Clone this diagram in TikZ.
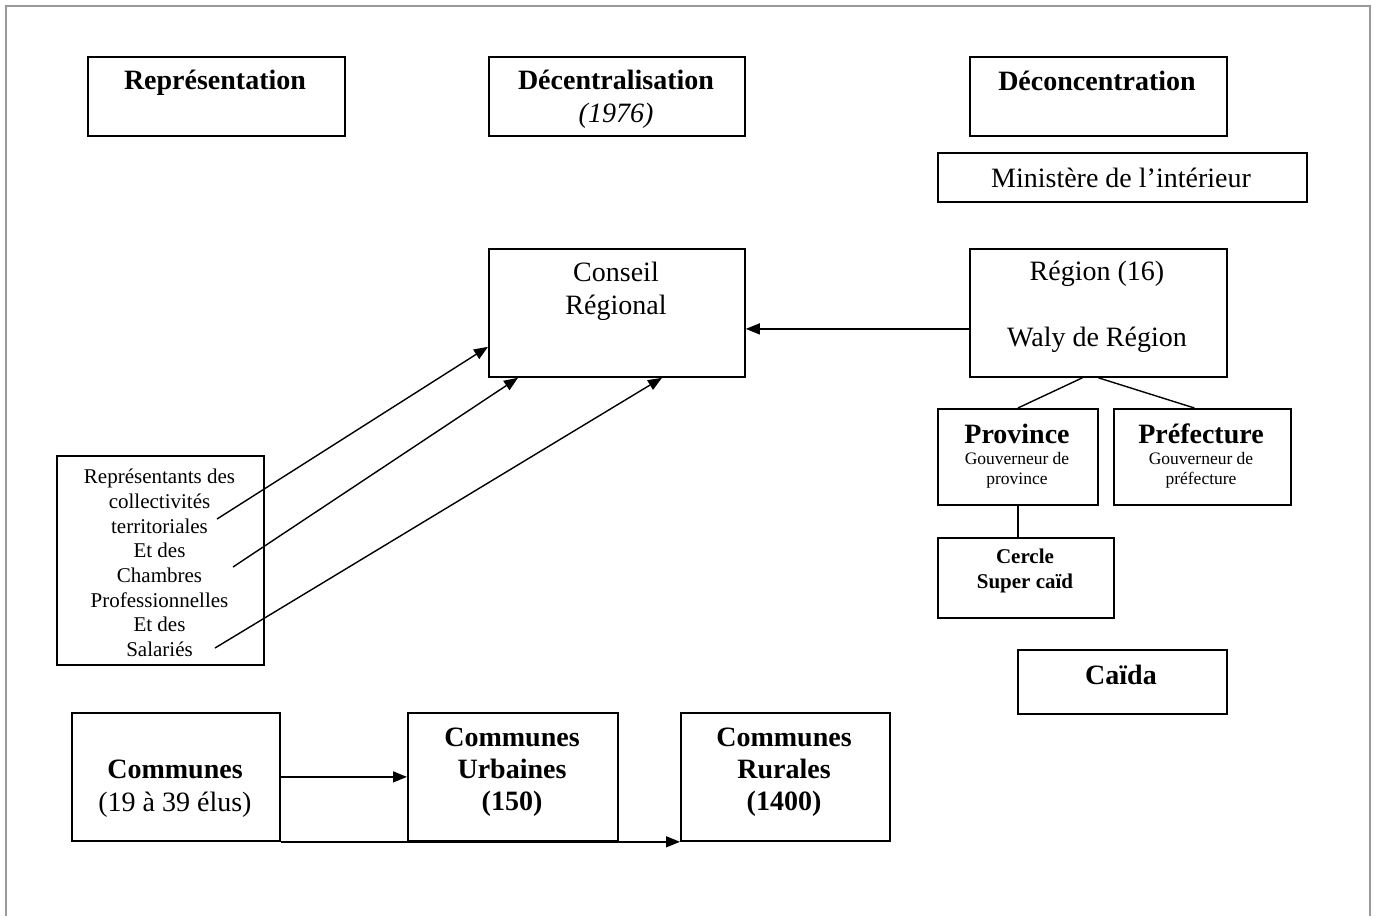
\documentclass[tikz,border=0pt]{standalone}
\usepackage{fontspec}
\setmainfont{Liberation Serif}
\usetikzlibrary{arrows.meta,calc}
\begin{document}
\begin{tikzpicture}[x=1pt,y=-1pt,
  box/.style={draw, line width=1.8pt, inner sep=0pt, anchor=north west},
  txt/.style={align=center, inner sep=0pt},
  bigf/.style={font=\fontsize{28}{33}\selectfont},
  bigb/.style={font=\fontsize{28}{32}\selectfont\bfseries},
  midf/.style={font=\fontsize{21}{24.7}\selectfont},
  conn/.style={line width=1.4pt},
  arr/.style={line width=1.4pt, -{Triangle[length=14pt,width=11pt]}},
  frame/.style={draw=black!40, line width=2.5pt}]
\useasboundingbox (0,0) rectangle (1376,916);
\fill[white] (0,0) rectangle (1376,916);
\draw[frame] (6,916) -- (6,6) -- (1370,6) -- (1370,916);

% boxes
\node[box, minimum width=257pt, minimum height=79pt] (rep) at (87,56) {};
\node[box, minimum width=256pt, minimum height=79pt] (dec) at (488,56) {};
\node[box, minimum width=257pt, minimum height=79pt] (decon) at (969,56) {};
\node[box, minimum width=369pt, minimum height=49pt] (min) at (937,152) {};
\node[box, minimum width=256pt, minimum height=128pt] (cr) at (488,248) {};
\node[box, minimum width=257pt, minimum height=128pt] (reg) at (969,248) {};
\node[box, minimum width=160pt, minimum height=96pt] (prov) at (937,408) {};
\node[box, minimum width=177pt, minimum height=96pt] (pref) at (1113,408) {};
\node[box, minimum width=176pt, minimum height=80pt] (cer) at (937,537) {};
\node[box, minimum width=209pt, minimum height=64pt] (cai) at (1017,649) {};
\node[box, minimum width=207pt, minimum height=209pt] (reps) at (56,455) {};
\node[box, minimum width=208pt, minimum height=128pt] (com) at (71,712) {};
\node[box, minimum width=210pt, minimum height=128pt] (urb) at (407,712) {};
\node[box, minimum width=209pt, minimum height=128pt] (rur) at (680,712) {};

% texts
\node[txt, bigb] (treps) at (215,83) {Représentation};
\node[txt, bigf] (tdec) at (616,99) {\textbf{Décentralisation}\\\textit{(1976)}};
\node[txt, bigb] (tdecon) at (1097,81) {Déconcentration};
\node[txt, bigf] (tmin) at (1121,178) {Ministère de l’intérieur};
\node[txt, bigf] (tcr) at (616,291) {Conseil\\Régional};
\node[txt, bigf] (treg) at (1097,307) {Région (16)\\[33pt]Waly de Région};
\node[txt, font=\fontsize{17.5}{20}\selectfont] (tprov) at (1017,456)
  {{\fontsize{28}{28}\selectfont\bfseries Province}\\[1pt]Gouverneur de\\province};
\node[txt, font=\fontsize{17.5}{20}\selectfont] (tpref) at (1201,456)
  {{\fontsize{28}{28}\selectfont\bfseries Préfecture}\\[1pt]Gouverneur de\\préfecture};
\node[txt, font=\fontsize{21}{25}\selectfont\bfseries] (tcer) at (1025,571) {Cercle\\Super caïd};
\node[txt, bigb] (tcai) at (1121,675) {Caïda};
\node[txt, midf] (treps2) at (159.5,563) {Représentants des\\collectivités\\territoriales\\Et des\\Chambres\\Professionnelles\\Et des\\Salariés};
\node[txt, bigf] (tcom) at (175,789) {\textbf{Communes}\\(19 à 39 élus)};
\node[txt, bigb] (turb) at (512,772) {Communes\\Urbaines\\(150)};
\node[txt, bigb] (trur) at (784,772) {Communes\\Rurales\\(1400)};

% connectors
\draw[arr] ($(reg.west)+(0,16)$) -- ($(cr.east)+(0,16)$);
\draw[conn] ($(reg.south)+(-16,0)$) -- (prov.north);
\draw[conn] (reg.south) -- ($(pref.north)+(-8,0)$);
\draw[conn] (prov.south) -- (prov.south |- cer.north);

\coordinate (s1) at (217,519);
\coordinate (s2) at (233,567);
\coordinate (s3) at (215,648);
\draw[arr] (s1) -- ($(cr.south west)+(0,-31)$);
\draw[arr] (s2) -- ($(cr.south west)+(30,0)$);
\draw[arr] (s3) -- ($(cr.south west)+(174,0)$);

\draw[arr] (com.east) -- (urb.west);
\draw[arr] (com.south east) -- (rur.south west);
\end{tikzpicture}
\end{document}
